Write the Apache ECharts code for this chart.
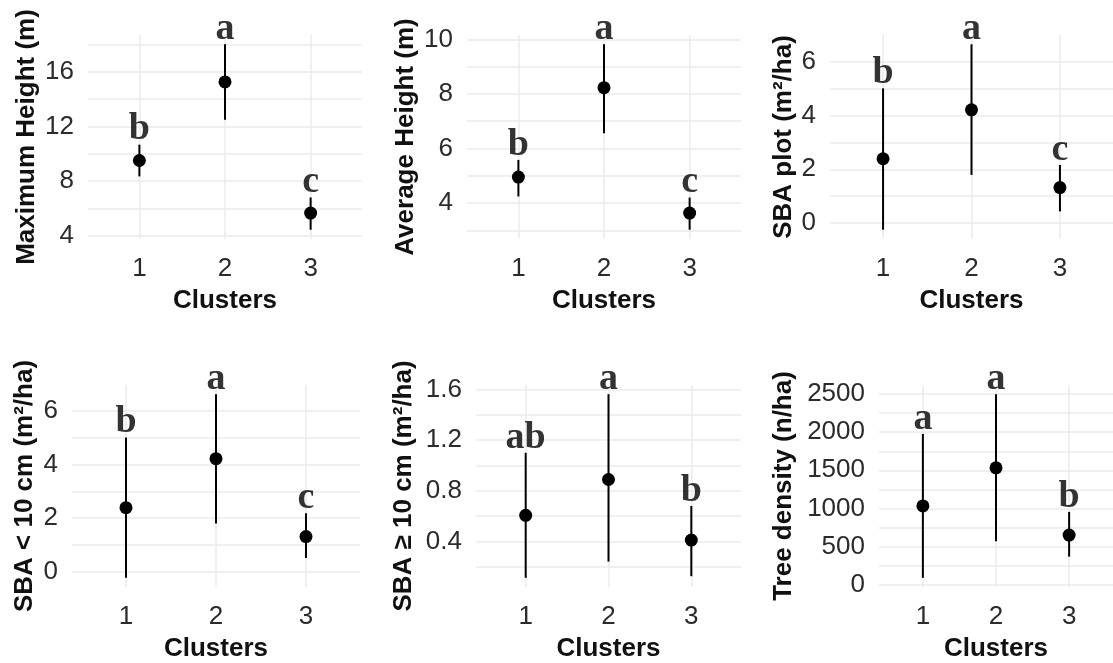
<!DOCTYPE html>
<html>
<head>
<meta charset="utf-8">
<script src="https://cdn.jsdelivr.net/npm/echarts@6/dist/echarts.min.js"></script>
<style>
html,body{margin:0;padding:0;background:#fff;}
#c{width:1113px;height:663px;}
</style>
</head>
<body>
<div id="c"></div>
<script>
// ---- data ----
const categories = ['1', '2', '3'];
const xTitle = 'Clusters';

const maxHeightMean  = [9.5, 15.25, 5.66];
const maxHeightLower = [8.34, 12.49, 4.44];
const maxHeightUpper = [10.66, 18.0, 6.8];
const maxHeightLetters = ['b', 'a', 'c'];
const maxHeightTicks = [4, 8, 12, 16];
const maxHeightGrid  = [4, 6, 8, 10, 12, 14, 16, 18];

const avgHeightMean  = [4.95, 8.23, 3.63];
const avgHeightLower = [4.24, 6.56, 3.02];
const avgHeightUpper = [5.58, 9.82, 4.2];
const avgHeightLetters = ['b', 'a', 'c'];
const avgHeightTicks = [4, 6, 8, 10];
const avgHeightGrid  = [3, 4, 5, 6, 7, 8, 9, 10];

const sbaPlotMean  = [2.39, 4.21, 1.32];
const sbaPlotLower = [-0.25, 1.79, 0.43];
const sbaPlotUpper = [5.01, 6.65, 2.16];
const sbaPlotLetters = ['b', 'a', 'c'];
const sbaPlotTicks = [0, 2, 4, 6];
const sbaPlotGrid  = [0, 1, 2, 3, 4, 5, 6];

const sbaSmallMean  = [2.39, 4.22, 1.31];
const sbaSmallLower = [-0.23, 1.8, 0.51];
const sbaSmallUpper = [5.01, 6.63, 2.18];
const sbaSmallLetters = ['b', 'a', 'c'];
const sbaSmallTicks = [0, 2, 4, 6];
const sbaSmallGrid  = [0, 1, 2, 3, 4, 5, 6];

const sbaLargeMean  = [0.606, 0.889, 0.41];
const sbaLargeLower = [0.112, 0.24, 0.125];
const sbaLargeUpper = [1.10, 1.563, 0.68];
const sbaLargeLetters = ['ab', 'a', 'b'];
const sbaLargeTicks = [0.4, 0.8, 1.2, 1.6];
const sbaLargeGrid  = [0.2, 0.4, 0.6, 0.8, 1.0, 1.2, 1.4, 1.6];

const densityMean  = [1032, 1533, 649];
const densityLower = [88, 567, 366];
const densityUpper = [1977, 2500, 954];
const densityLetters = ['a', 'a', 'b'];
const densityTicks = [0, 500, 1000, 1500, 2000, 2500];
const densityGrid  = [0, 250, 500, 750, 1000, 1250, 1500, 1750, 2000, 2250, 2500];

// ---- panels ----
const panels = [
  {name: 'Maximum Height (m)', mean: maxHeightMean, lo: maxHeightLower, hi: maxHeightUpper, letters: maxHeightLetters, ticks: maxHeightTicks, grid: maxHeightGrid,
   box: {left: 88, top: 35, width: 274, height: 204}, nameGap: 48},
  {name: 'Average Height (m)', mean: avgHeightMean, lo: avgHeightLower, hi: avgHeightUpper, letters: avgHeightLetters, ticks: avgHeightTicks, grid: avgHeightGrid,
   box: {left: 467, top: 35, width: 274, height: 204}, nameGap: 48},
  {name: 'SBA plot (m\u00B2/ha)', mean: sbaPlotMean, lo: sbaPlotLower, hi: sbaPlotUpper, letters: sbaPlotLetters, ticks: sbaPlotTicks, grid: sbaPlotGrid,
   box: {left: 830, top: 35, width: 287, height: 204}, nameGap: 33},
  {name: 'SBA < 10 cm (m\u00B2/ha)', mean: sbaSmallMean, lo: sbaSmallLower, hi: sbaSmallUpper, letters: sbaSmallLetters, ticks: sbaSmallTicks, grid: sbaSmallGrid,
   box: {left: 72, top: 385, width: 288, height: 203}, nameGap: 34},
  {name: 'SBA \u2265 10 cm (m\u00B2/ha)', mean: sbaLargeMean, lo: sbaLargeLower, hi: sbaLargeUpper, letters: sbaLargeLetters, ticks: sbaLargeTicks, grid: sbaLargeGrid,
   box: {left: 476, top: 385, width: 265, height: 203}, nameGap: 59},
  {name: 'Tree density (n/ha)', mean: densityMean, lo: densityLower, hi: densityUpper, letters: densityLetters, ticks: densityTicks, grid: densityGrid,
   box: {left: 879, top: 385, width: 239, height: 203}, nameGap: 82}
];

const SANS = 'Liberation Sans, Arial, sans-serif';
const SERIF = 'Liberation Serif, Times New Roman, serif';
const GRID_COLOR = '#ebebeb';

const grids = [], xAxes = [], yAxes = [], series = [];
const xPos = categories.map((c, i) => i + 1);

panels.forEach((p, k) => {
  const lo = Math.min(...p.lo), hi = Math.max(...p.hi);
  const r = hi - lo;
  grids.push(Object.assign({containLabel: false}, p.box));
  xAxes.push({
    type: 'value', gridIndex: k, min: 0.4, max: 3.6,
    name: xTitle, nameLocation: 'middle', nameGap: 49,
    nameTextStyle: {fontFamily: SANS, fontSize: 26, fontWeight: 'bold', color: '#111'},
    axisLine: {show: false},
    axisTick: {show: false, customValues: xPos},
    axisLabel: {customValues: xPos, formatter: v => categories[Math.round(v) - 1],
                fontFamily: SANS, fontSize: 26, color: '#2b2b2b', margin: 17},
    splitLine: {show: true, lineStyle: {color: GRID_COLOR, width: 1.5}}
  });
  yAxes.push({
    type: 'value', gridIndex: k, min: lo - 0.05 * r, max: hi + 0.05 * r,
    name: p.name, nameLocation: 'middle', nameRotate: 90, nameGap: p.nameGap,
    nameTextStyle: {fontFamily: SANS, fontSize: 26, fontWeight: 'bold', color: '#111'},
    axisLine: {show: false},
    axisTick: {show: false, customValues: p.grid},
    axisLabel: {customValues: p.ticks, formatter: v => String(v),
                fontFamily: SANS, fontSize: 26, color: '#2b2b2b', margin: 14},
    splitLine: {show: true, lineStyle: {color: GRID_COLOR, width: 1.5}}
  });
  series.push({
    type: 'custom', xAxisIndex: k, yAxisIndex: k,
    data: xPos.map((x, i) => [x, p.lo[i], p.hi[i]]),
    encode: {x: 0, y: [1, 2]},
    renderItem: (params, api) => {
      const a = api.coord([api.value(0), api.value(1)]);
      const b = api.coord([api.value(0), api.value(2)]);
      return {type: 'line', shape: {x1: a[0], y1: a[1], x2: b[0], y2: b[1]},
              style: {stroke: '#000', lineWidth: 2}};
    },
    silent: true, z: 2
  });
  series.push({
    type: 'scatter', xAxisIndex: k, yAxisIndex: k,
    data: xPos.map((x, i) => [x, p.mean[i]]),
    symbol: 'circle', symbolSize: 13, itemStyle: {color: '#000', opacity: 1},
    silent: true, z: 3
  });
  series.push({
    type: 'scatter', xAxisIndex: k, yAxisIndex: k,
    data: xPos.map((x, i) => ({value: [x, p.hi[i]], label: {formatter: p.letters[i]}})),
    symbolSize: 0, itemStyle: {color: 'transparent'},
    label: {show: true, position: 'top', distance: 0, offset: [0, 4],
            fontFamily: SERIF, fontSize: 38, fontWeight: 'bold', color: '#000'},
    silent: true, z: 4
  });
});

const chart = echarts.init(document.getElementById('c'), null, {renderer: 'canvas'});
chart.setOption({
  backgroundColor: '#fff',
  animation: false,
  grid: grids, xAxis: xAxes, yAxis: yAxes, series: series
});
</script>
</body>
</html>
